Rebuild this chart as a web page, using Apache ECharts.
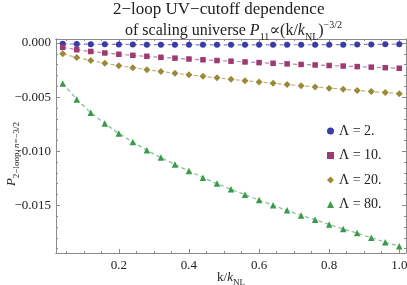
<!DOCTYPE html>
<html><head><meta charset="utf-8">
<script src="https://cdn.jsdelivr.net/npm/echarts@6/dist/echarts.min.js"></script>
<style>html,body{margin:0;padding:0;background:#fff}#c{width:407px;height:285px}</style>
</head><body><div id="c"></div>
<script>
var kValues = [0.04,0.08,0.12,0.16,0.20,0.24,0.28,0.32,0.36,0.40,0.44,0.48,0.52,0.56,0.60,0.64,0.68,0.72,0.76,0.80,0.84,0.88,0.92,0.96,1.00];
var lam2  = [-0.00008,-0.00010,-0.00011,-0.00012,-0.00013,-0.00014,-0.00015,-0.00015,-0.00016,-0.00016,-0.00017,-0.00017,-0.00017,-0.00017,-0.00017,-0.00017,-0.00016,-0.00016,-0.00016,-0.00015,-0.00015,-0.00014,-0.00013,-0.00012,-0.00011];
var lam10 = [-0.00040,-0.00062,-0.00078,-0.00092,-0.00104,-0.00114,-0.00123,-0.00132,-0.00140,-0.00148,-0.00155,-0.00162,-0.00168,-0.00175,-0.00181,-0.00187,-0.00193,-0.00198,-0.00203,-0.00208,-0.00213,-0.00218,-0.00223,-0.00228,-0.00233];
var lam20 = [-0.00100,-0.00133,-0.00162,-0.00187,-0.00209,-0.00228,-0.00246,-0.00263,-0.00279,-0.00294,-0.00308,-0.00322,-0.00335,-0.00348,-0.00360,-0.00372,-0.00384,-0.00395,-0.00406,-0.00417,-0.00427,-0.00438,-0.00448,-0.00458,-0.00468];
var lam80 = [-0.00373,-0.00521,-0.00645,-0.00744,-0.00837,-0.00914,-0.00991,-0.01058,-0.01123,-0.01182,-0.01244,-0.01299,-0.01352,-0.01401,-0.01451,-0.01500,-0.01546,-0.01593,-0.01632,-0.01676,-0.01719,-0.01756,-0.01799,-0.01840,-0.01877];
var seriesNames = ['Λ = 2.','Λ = 10.','Λ = 20.','Λ = 80.'];
var xMajor = [0.2,0.4,0.6,0.8,1.0];
var xMinor = [0.05,0.1,0.15,0.25,0.3,0.35,0.45,0.5,0.55,0.65,0.7,0.75,0.85,0.9,0.95];
var yMajor = [0,-0.005,-0.010,-0.015];
var yMinor = [-0.001,-0.002,-0.003,-0.004,-0.006,-0.007,-0.008,-0.009,-0.011,-0.012,-0.013,-0.014,-0.016,-0.017,-0.018,-0.019];

var colors = ['#3b3ba6','#9c3a72','#9a8a38','#3a9a4c'];
var symbols = ['circle','rect','diamond','triangle'];
var symSizes = [6,5.5,7,6.5];
var allData = [lam2,lam10,lam20,lam80];
var serif = '"Liberation Serif","DejaVu Serif",serif';
var XMIN=0.0208, XMAX=1.0192, YMIN=-0.0194, YMAX=0.00037;
var frameColor = '#8a8a8a';

function xAx(pos, ticks, len, labels){
  return {type:'value', position:pos, min:XMIN, max:XMAX,
    axisLine:{show:true, onZero:false, lineStyle:{color:frameColor,width:1}},
    axisTick:{show:true, inside:true, length:len, customValues:ticks, lineStyle:{color:frameColor}},
    axisLabel:{show:labels, customValues:ticks, formatter:function(v){return v.toFixed(1);}, color:'#222', fontFamily:serif, fontSize:13, margin:6},
    splitLine:{show:false}};
}
function yAx(pos, ticks, len, labels){
  return {type:'value', position:pos, min:YMIN, max:YMAX,
    axisLine:{show:true, onZero:false, lineStyle:{color:frameColor,width:1}},
    axisTick:{show:true, inside:true, length:len, customValues:ticks, lineStyle:{color:frameColor}},
    axisLabel:{show:labels, customValues:ticks, formatter:function(v){return v.toFixed(3).replace('-','−');}, color:'#222', fontFamily:serif, fontSize:13, margin:5},
    splitLine:{show:false}};
}
var xAxes = [xAx('bottom',xMajor,4,true), xAx('bottom',xMinor,2,false), xAx('top',xMajor,4,false), xAx('top',xMinor,2,false)];
xAxes[0].name = '{a|k/}{i|k}{s|NL}';
xAxes[0].nameLocation='middle'; xAxes[0].nameGap=16; xAxes[0].nameMoveOverlap=false;
xAxes[0].nameTextStyle = {fontFamily:serif, color:'#222', rich:{
  a:{fontFamily:serif,fontSize:13,lineHeight:18,verticalAlign:'middle',color:'#222'},
  i:{fontFamily:serif,fontSize:13,fontStyle:'italic',lineHeight:18,verticalAlign:'middle',color:'#222'},
  s:{fontFamily:serif,fontSize:9,lineHeight:9,verticalAlign:'bottom',color:'#222'}}};
var yAxes = [yAx('left',yMajor,4,true), yAx('left',yMinor,2,false), yAx('right',yMajor,4,false), yAx('right',yMinor,2,false)];
yAxes[0].name = '{i|P}{s|2−loop, }{si|n}{s|=−3/2}';
yAxes[0].nameLocation='middle'; yAxes[0].nameGap=35; yAxes[0].nameRotate=90; yAxes[0].nameMoveOverlap=false;
yAxes[0].nameTextStyle = {fontFamily:serif, color:'#222', padding:[0,16,0,0], rich:{
  i:{fontFamily:serif,fontSize:13,fontStyle:'italic',lineHeight:18,verticalAlign:'middle',color:'#222'},
  s:{fontFamily:serif,fontSize:9,lineHeight:9,verticalAlign:'bottom',color:'#222'},
  si:{fontFamily:serif,fontSize:9,fontStyle:'italic',lineHeight:9,verticalAlign:'bottom',color:'#222'}}};

var series = allData.map(function(arr,i){
  return {name:seriesNames[i], type:'line', xAxisIndex:0, yAxisIndex:0,
    data:kValues.map(function(k,j){return [k,arr[j]];}),
    symbol:symbols[i], symbolSize:symSizes[i], showSymbol:true,
    itemStyle:{color:colors[i]},
    lineStyle:{color:colors[i], width:1.2, type:[4,3], opacity:0.65},
    animation:false, silent:true};
});

var chart = echarts.init(document.getElementById('c'), null, {renderer:'canvas'});
chart.setOption({
  animation:false,
  backgroundColor:'#fff',
  title:[
    {text:'2−loop UV−cutoff dependence', left:108, top:-4, textStyle:{fontFamily:serif,fontSize:17,fontWeight:'normal',color:'#222'}},
    {text:'{a|of scaling universe }{i|P}{s|11}{a|∝(k/}{i|k}{s|NL}{a|)}{p|−3/2}', left:125, top:20, padding:0,
      textStyle:{fontFamily:serif,fontSize:16,fontWeight:'normal',color:'#222', rich:{
        a:{fontFamily:serif,fontSize:16,lineHeight:22,verticalAlign:'middle',color:'#222'},
        i:{fontFamily:serif,fontSize:16,fontStyle:'italic',lineHeight:22,verticalAlign:'middle',color:'#222'},
        s:{fontFamily:serif,fontSize:10,lineHeight:10,verticalAlign:'bottom',color:'#222'},
        p:{fontFamily:serif,fontSize:10,lineHeight:10,verticalAlign:'top',color:'#222'}}}}
  ],
  grid:{left:56, right:1, top:39, bottom:32, containLabel:false, outerBoundsMode:'none'},
  xAxis:xAxes, yAxis:yAxes,
  legend:{orient:'vertical', left:322, top:119, itemWidth:7, itemHeight:7, itemGap:10.5,
    data:seriesNames.map(function(n,i){return {name:n, icon:symbols[i]};}),
    textStyle:{fontFamily:serif, fontSize:14, color:'#222', lineHeight:14}, selectedMode:false},
  series:series
});
</script></body></html>
